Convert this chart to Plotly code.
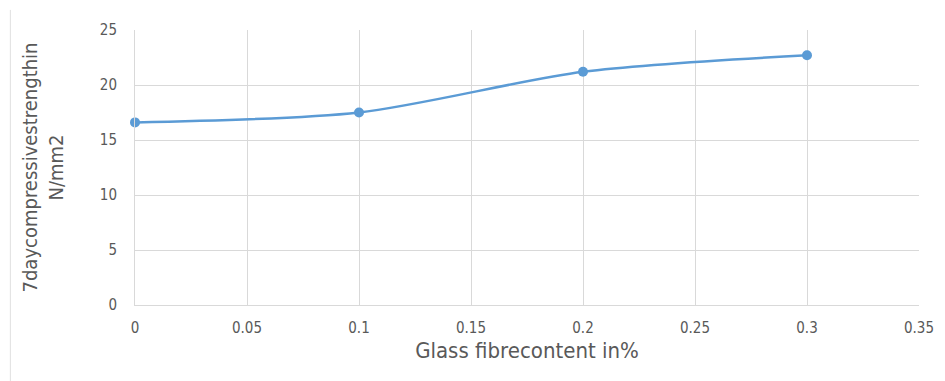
import plotly.graph_objects as go

fibre_content = [0, 0.1, 0.2, 0.3]
strength_7day = [16.6, 17.5, 21.2, 22.7]
x_ticks = [0, 0.05, 0.1, 0.15, 0.2, 0.25, 0.3, 0.35]
x_tick_labels = ["0", "0.05", "0.1", "0.15", "0.2", "0.25", "0.3", "0.35"]
y_ticks = [0, 5, 10, 15, 20, 25]

font_family = "DejaVu Sans Condensed, Liberation Sans, sans-serif"
grey = "#595959"

fig = go.Figure()
fig.add_trace(go.Scatter(
    x=fibre_content, y=strength_7day,
    mode="lines+markers",
    line=dict(color="#5B9BD5", width=2.5, shape="spline", smoothing=0.8),
    marker=dict(color="#5B9BD5", size=10),
    showlegend=False,
    cliponaxis=False,
))

fig.update_layout(
    width=937, height=373,
    margin=dict(l=127, r=26, t=22, b=76, autoexpand=False),
    paper_bgcolor="white", plot_bgcolor="white",
    font=dict(family=font_family, color=grey, size=15),
    xaxis=dict(
        range=[0, 0.35], tickvals=x_ticks, ticktext=x_tick_labels,
        showgrid=True, gridcolor="#d9d9d9", gridwidth=1,
        zeroline=False, showline=True, linecolor="#d9d9d9",
        ticks="outside", ticklen=9, tickcolor="rgba(0,0,0,0)",
        tickfont=dict(size=15, color=grey),
        title=dict(text="Glass fibrecontent in%", font=dict(size=22, color=grey), standoff=6),
    ),
    yaxis=dict(
        range=[0, 25], tickvals=y_ticks,
        showgrid=True, gridcolor="#d9d9d9", gridwidth=1,
        zeroline=False, showline=True, linecolor="#d9d9d9",
        ticks="outside", ticklen=14, tickcolor="rgba(0,0,0,0)",
        tickfont=dict(size=15, color=grey),
        title=dict(text="7daycompressivestrengthin<br>N/mm2", font=dict(size=20, color=grey), standoff=30),
    ),
    shapes=[dict(type="line", xref="paper", yref="paper", x0=-0.159, x1=-0.159, y0=-0.28, y1=1.073,
                 line=dict(color="#e0e0e0", width=1))],
)

fig.write_html("out.html")
